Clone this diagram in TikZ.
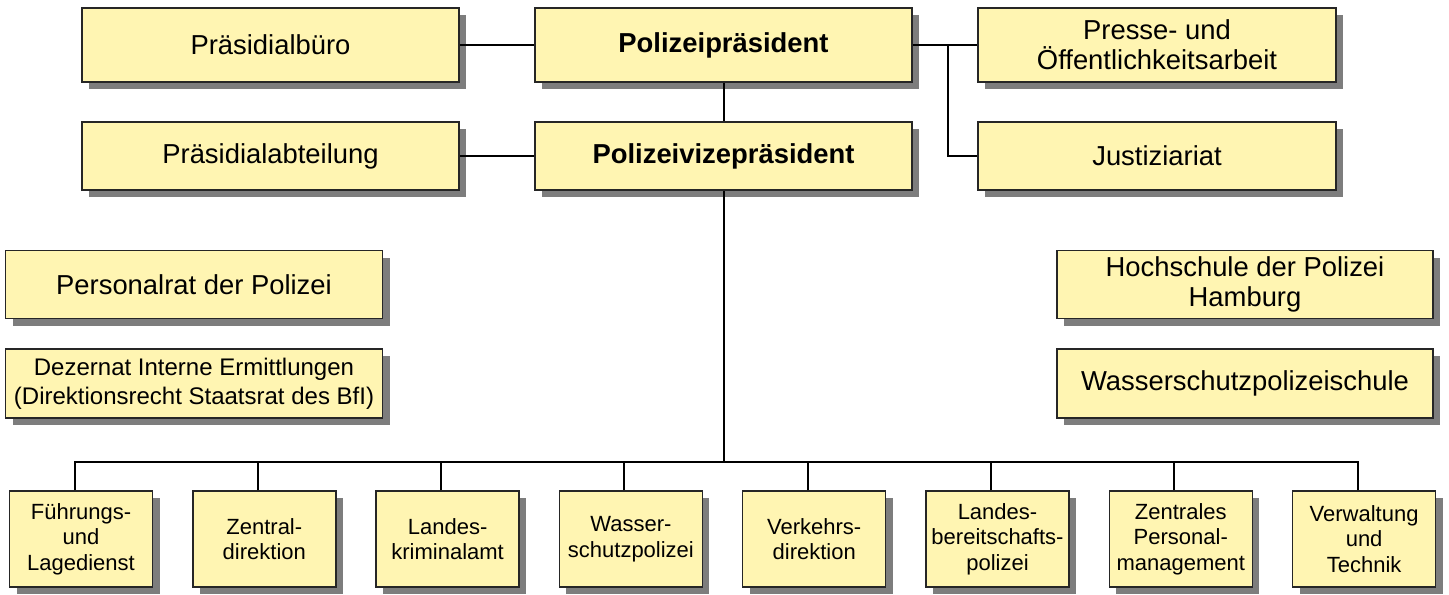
\documentclass[tikz,border=0pt]{standalone}
\usepackage{fontspec}
\setmainfont{Liberation Sans}
\usetikzlibrary{shadows}
\definecolor{boxfill}{RGB}{255,245,178}
\definecolor{shadowgrey}{RGB}{125,125,125}
\tikzset{
  unit/.style={draw=black!85, line width=0.75pt, fill=boxfill, align=center,
    inner sep=2pt,
    drop shadow={shadow xshift=3.5pt, shadow yshift=-3.5pt, fill=shadowgrey, opacity=1}},
  topbox/.style={unit, minimum width=188.5pt, minimum height=37pt,
    font=\fontsize{13.7}{15}\selectfont},
  midbox/.style={unit, minimum width=188.5pt, minimum height=34pt,
    font=\fontsize{13.7}{15}\selectfont},
  sidebox/.style={unit, minimum width=188.5pt, minimum height=34pt,
    font=\fontsize{13.7}{15}\selectfont},
  deptbox/.style={unit, minimum width=71.5pt, minimum height=48pt,
    font=\fontsize{11}{12.8}\selectfont},
  conn/.style={line width=1pt}
}
\begin{document}
\begin{tikzpicture}[x=0.5pt,y=-0.5pt]
        \useasboundingbox (0,0) rectangle (1449,594);
        % Leitung
        \node[topbox] (buero) at (270.5,45) {Präsidialbüro};
        \node[topbox] (praesident) at (723.5,45) {\textbf{Polizeipräsident}};
        \node[topbox, minimum width=179pt] (presse) at (1157,45) {Presse- und\\Öffentlichkeitsarbeit};
        \node[midbox] (abteilung) at (270.5,156) {Präsidialabteilung};
        \node[midbox] (vize) at (723.5,156) {\textbf{Polizeivizepräsident}};
        \node[midbox, minimum width=179pt] (justiz) at (1157,156) {Justiziariat};
        % Seitliche Stellen
        \node[sidebox] (personalrat) at (194,284.5) {Personalrat der Polizei};
        \node[sidebox, minimum height=34.5pt, font=\fontsize{12}{14.5}\selectfont] (dezernat) at (194,383.5)
          {Dezernat Interne Ermittlungen\\(Direktionsrecht Staatsrat des BfI)};
        \node[sidebox, minimum width=188pt] (hochschule) at (1245,284.5) {Hochschule der Polizei\\Hamburg};
        \node[sidebox, minimum width=188pt, minimum height=34.5pt] (wspschule) at (1245,383.5) {Wasserschutzpolizeischule};
        % Direktionen
        \node[deptbox] (fuehrung) at (81,539) {Führungs-\\und\\Lagedienst};
        \node[deptbox] (zentral) at (264.3,539) {Zentral-\\direktion};
        \node[deptbox] (lka) at (447.6,539) {Landes-\\kriminalamt};
        \node[deptbox] (wsp) at (630.9,539) {Wasser-\\schutzpolizei};
        \node[deptbox] (verkehr) at (814.2,539) {Verkehrs-\\direktion};
        \node[deptbox] (lbp) at (997.5,539) {Landes-\\bereitschafts-\\polizei};
        \node[deptbox] (personal) at (1180.8,539) {Zentrales\\Personal-\\management};
        \node[deptbox] (verwaltung) at (1364.1,539) {Verwaltung\\und\\Technik};
        % Verbindungen
        \coordinate (branch) at (948,45);
        \coordinate (bus) at (723.5,462);
        \draw[conn] (buero) -- (praesident);
        \draw[conn] (praesident) -- (presse);
        \draw[conn] (branch) |- (justiz.west);
        \draw[conn] (praesident) -- (vize);
        \draw[conn] (abteilung) -- (vize);
        \draw[conn] (vize.south) -- (bus);
        \draw[conn] ([xshift=-3.25pt]fuehrung.north) |- (bus);
        \draw[conn] ([xshift=-3.25pt]zentral.north) |- (bus);
        \draw[conn] ([xshift=-3.25pt]lka.north) |- (bus);
        \draw[conn] ([xshift=-3.25pt]wsp.north) |- (bus);
        \draw[conn] ([xshift=-3.25pt]verkehr.north) |- (bus);
        \draw[conn] ([xshift=-3.25pt]lbp.north) |- (bus);
        \draw[conn] ([xshift=-3.25pt]personal.north) |- (bus);
        \draw[conn] ([xshift=-3.25pt]verwaltung.north) |- (bus);
    \end{tikzpicture}
\end{document}
